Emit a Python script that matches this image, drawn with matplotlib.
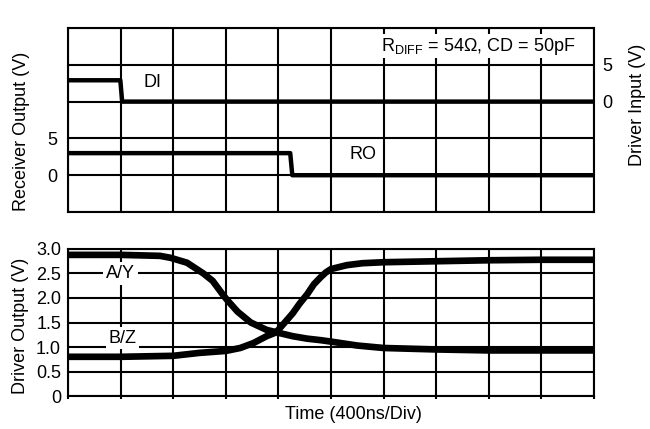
import matplotlib
matplotlib.use("Agg")
import matplotlib.pyplot as plt

plt.rcParams['font.family'] = ['Liberation Sans', 'DejaVu Sans']
plt.rcParams['font.size'] = 13
plt.rcParams['mathtext.fontset'] = 'custom'
plt.rcParams['mathtext.rm'] = 'Liberation Sans'
plt.rcParams['mathtext.it'] = 'Liberation Sans:italic'

# Time grid, 400 ns per division
div_ticks = [0, 400, 800, 1200, 1600, 2000, 2400, 2800, 3200, 3600, 4000]

# Top panel: driver input DI (right axis, V) and receiver output RO (left axis, V)
di_time = [0, 398, 412, 4000]
di_volt = [2.9, 2.9, 0.0, 0.0]
ro_time = [0, 1690, 1706, 4000]
ro_volt = [3.0, 3.0, 0.0, 0.0]

# Bottom panel: driver outputs A/Y and B/Z (V)
ay_time = [0, 400, 700, 780, 905, 1030, 1100, 1180, 1210, 1290, 1390, 1510,
           1600, 1710, 1820, 1920, 2000, 2200, 2400, 2800, 3200, 3600, 4000]
ay_volt = [2.88, 2.88, 2.86, 2.82, 2.72, 2.50, 2.35, 2.06, 1.96, 1.72, 1.50, 1.35,
           1.29, 1.22, 1.17, 1.14, 1.11, 1.03, 0.98, 0.95, 0.93, 0.93, 0.93]
bz_time = [0, 400, 800, 1000, 1200, 1310, 1410, 1510, 1575, 1600, 1710, 1760,
           1820, 1870, 1920, 1960, 2000, 2120, 2240, 2400, 2800, 3200, 3600, 4000]
bz_volt = [0.80, 0.80, 0.82, 0.88, 0.92, 0.98, 1.08, 1.22, 1.29, 1.35, 1.69, 1.88,
           2.08, 2.28, 2.42, 2.52, 2.59, 2.67, 2.71, 2.73, 2.75, 2.77, 2.78, 2.78]

out_ticks = [0, 0.5, 1.0, 1.5, 2.0, 2.5, 3.0]
out_labels = ['0', '0.5', '1.0', '1.5', '2.0', '2.5', '3.0']

fig = plt.figure(figsize=(6.5, 4.29), dpi=100)
ax_top = fig.add_axes([0.1046, 0.5058, 0.8092, 0.4289])
ax_bot = fig.add_axes([0.1046, 0.0769, 0.8092, 0.3427])

grid_kw = dict(color='black', linewidth=1.5)

# ---- top panel ----
ax_top.set_xlim(0, 4000)
ax_top.set_ylim(-5, 20)
ax_top.set_xticks(div_ticks)
ax_top.set_xticklabels([])
ax_top.set_yticks([-5, 0, 5, 10, 15, 20])
ax_top.set_yticklabels(['', '0', '5', '', '', ''])
ax_top.grid(True, **grid_kw)
ax_top.tick_params(length=0, pad=8)
for s in ax_top.spines.values():
    s.set_linewidth(1.5)
ax_top.plot(ro_time, ro_volt, color='black', linewidth=3.2, zorder=3)
ax_top.set_ylabel('Receiver Output (V)')
ax_top.yaxis.set_label_coords(-0.072, 0.44)

# right scale is offset two divisions from the left one
ax_right = ax_top.twinx()
ax_right.set_ylim(-15, 10)
ax_right.set_yticks([0, 5])
ax_right.tick_params(length=0, pad=6)
ax_right.plot(di_time, di_volt, color='black', linewidth=3.2, zorder=3)
ax_right.set_ylabel('Driver Input (V)')
ax_right.yaxis.set_label_coords(1.066, 0.58)
for s in ax_right.spines.values():
    s.set_visible(False)

ax_top.text(0.16, 0.705, 'DI', transform=ax_top.transAxes, ha='center', va='center')
ax_top.text(0.56, 0.31, 'RO', transform=ax_top.transAxes, ha='center', va='center')
ax_top.text(0.964, 0.90, r'R$_{\mathrm{DIFF}}$ = 54Ω, CD = 50pF', transform=ax_top.transAxes,
            ha='right', va='center', zorder=5,
            bbox=dict(facecolor='white', edgecolor='none', pad=1))

# ---- bottom panel ----
ax_bot.set_xlim(0, 4000)
ax_bot.set_ylim(0, 3.0)
ax_bot.set_xticks(div_ticks)
ax_bot.set_xticklabels([])
ax_bot.set_yticks(out_ticks)
ax_bot.set_yticklabels(out_labels)
ax_bot.grid(True, **grid_kw)
ax_bot.tick_params(axis='y', length=0, pad=5)
ax_bot.tick_params(axis='x', length=2, width=1.5)
for s in ax_bot.spines.values():
    s.set_linewidth(1.5)
ax_bot.plot(ay_time, ay_volt, color='black', linewidth=4.8, solid_capstyle='butt',
            solid_joinstyle='round', zorder=3)
ax_bot.plot(bz_time, bz_volt, color='black', linewidth=4.8, solid_capstyle='butt',
            solid_joinstyle='round', zorder=3)

ax_bot.text(400, 2.5, 'A/Y', ha='center', va='center', zorder=5,
            bbox=dict(facecolor='white', edgecolor='none', pad=2))
ax_bot.text(415, 1.18, 'B/Z', ha='center', va='center', zorder=5,
            bbox=dict(facecolor='white', edgecolor='none', pad=2))

ax_bot.set_ylabel('Driver Output (V)')
ax_bot.yaxis.set_label_coords(-0.075, 0.48)
ax_bot.set_xlabel('Time (400ns/Div)')
ax_bot.xaxis.set_label_coords(0.542, -0.07)

fig.savefig('out.png', dpi=100)
